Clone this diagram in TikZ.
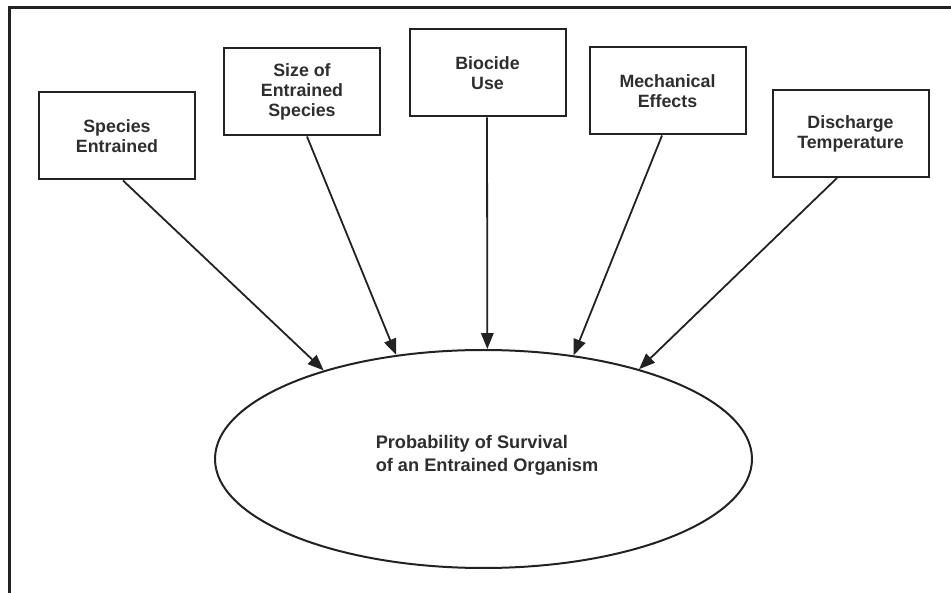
\documentclass[tikz,border=0pt]{standalone}
\usepackage{fontspec}
\setmainfont{Liberation Sans}
\usetikzlibrary{arrows.meta,shapes.geometric}
\definecolor{ink}{HTML}{222222}
\definecolor{txt}{HTML}{2E2E2E}
\begin{document}
\begin{tikzpicture}[x=1pt,y=-1pt,
  factor/.style={draw=ink,line width=2pt,rectangle,inner sep=0pt,
    minimum width=156pt,minimum height=87pt,align=center,text=txt,
    font=\fontsize{17.8}{20}\selectfont\bfseries},
  outcome/.style={draw=ink,line width=2pt,ellipse,inner sep=0pt,
    minimum width=537pt,minimum height=218pt},
  link/.style={draw=ink,line width=1.8pt,-{Triangle[length=16pt,width=12.5pt]}},
  frameline/.style={draw=ink,line width=3pt}]
\useasboundingbox (0,0) rectangle (951,593);
\coordinate (ftl) at (9.5,8);
\coordinate (ftr) at (951,8);
\coordinate (fbl) at (9.5,593);
\draw[frameline] (ftr) -- (ftl) -- (fbl);

\node[factor] (b1) at (117,136) {Species\\Entrained};
\node[factor] (b2) at (302,92) {Size of\\Entrained\\Species};
\node[factor] (b3) at (487.5,73) {Biocide\\Use};
\node[factor] (b4) at (667.5,91) {Mechanical\\Effects};
\node[factor] (b5) at (850.5,133.5) {Discharge\\Temperature};

\node[outcome] (ell) at (483.5,459) {};
\node[align=left,text=txt,font=\fontsize{18.2}{23}\selectfont\bfseries,inner sep=0pt]
  (lab) at (487,455) {Probability of Survival\\of an Entrained Organism};

\draw[link] ([xshift=6pt]b1.south) -- (ell.151.4);
\draw[link] ([xshift=5pt]b2.south) -- (ell.130.5);
\draw[link] ([xshift=-0.5pt]b3.south) -- (ell.88.2);
\draw[link] ([xshift=-5.5pt]b4.south) -- (ell.49.2);
\draw[link] ([xshift=-13.5pt]b5.south) -- (ell.30.2);
\end{tikzpicture}
\end{document}
